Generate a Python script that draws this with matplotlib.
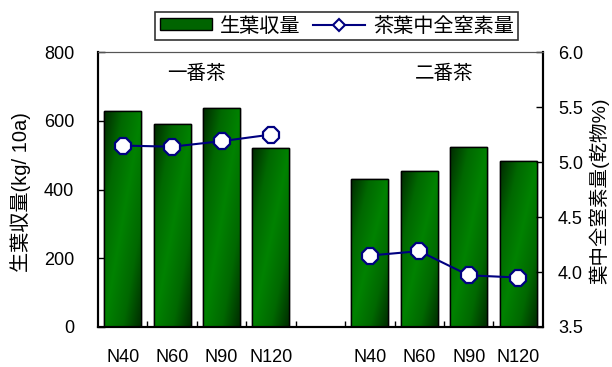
import numpy as np
import matplotlib
matplotlib.use("Agg")
import matplotlib.pyplot as plt
from matplotlib.colors import LinearSegmentedColormap
from matplotlib.lines import Line2D
from matplotlib.patches import Patch
from matplotlib.ticker import MultipleLocator, FixedLocator, FormatStrFormatter

plt.rcParams['font.family'] = ['Liberation Sans', 'Noto Sans CJK JP']
plt.rcParams['font.size'] = 13

labels = ["N40", "N60", "N90", "N120", "", "N40", "N60", "N90", "N120"]
yield_1 = [628, 590, 636, 520]      # 一番茶
yield_2 = [432, 455, 525, 482]      # 二番茶
nitrogen_1 = [5.15, 5.14, 5.19, 5.25]
nitrogen_2 = [4.15, 4.19, 3.97, 3.95]

x1 = np.arange(4)
x2 = np.arange(5, 9)

fig = plt.figure(figsize=(6.12, 3.67), dpi=100)
ax = fig.add_axes([0.160, 0.109, 0.727, 0.749])
ax2 = ax.twinx()

green_cmap = LinearSegmentedColormap.from_list("bar", ["#002a00", "#006800", "#008200"])

# bars with a diagonal shading, dark at the top-left and bottom-right corners
u = np.linspace(0, 1, 60)
t = np.linspace(0, 1, 120)
U, T = np.meshgrid(u, t)
shade = 1 - np.abs(U - T)

width = 0.75
bars = ax.bar(np.concatenate([x1, x2]), yield_1 + yield_2, width=width,
              color="#008000", edgecolor="black", linewidth=1.0, zorder=2)
for b in bars:
    x0 = b.get_x()
    h = b.get_height()
    im = ax.imshow(shade, cmap=green_cmap, vmin=0, vmax=1, origin="lower",
                   extent=[x0, x0 + width, 0, h], aspect="auto", zorder=2.5)
    im.set_clip_path(b)
    ax.bar(x0 + width / 2, h, width=width, fill=False, edgecolor="black",
           linewidth=1.0, zorder=3)

ax.set_xlim(-0.5, 8.5)
ax.set_ylim(0, 800)
ax.yaxis.set_major_locator(MultipleLocator(200))
ax.set_xticks(np.arange(9))
ax.set_xticklabels(labels)
ax.xaxis.set_minor_locator(FixedLocator(np.arange(0.5, 8, 1)))
ax.tick_params(axis="x", which="major", length=0, pad=16, labelsize=13)
ax.tick_params(axis="x", which="minor", direction="in", length=4, width=1)
ax.tick_params(axis="y", direction="in", length=5, width=1, pad=17, labelsize=13)
ax.set_ylabel("生葉収量(kg/ 10a)", fontsize=14.5)
ax.yaxis.set_label_coords(-0.15, 0.49)

line_kw = dict(color="#000080", linewidth=1.5, marker="8", markersize=13,
               markerfacecolor="white", markeredgecolor="#000080",
               markeredgewidth=1.6, zorder=5)
ax2.plot(x1, nitrogen_1, **line_kw)
ax2.plot(x2, nitrogen_2, **line_kw)
ax2.set_ylim(3.5, 6.0)
ax2.yaxis.set_major_locator(MultipleLocator(0.5))
ax2.yaxis.set_major_formatter(FormatStrFormatter("%.1f"))
ax2.tick_params(axis="y", direction="in", length=5, width=1, pad=11, labelsize=13)
ax2.set_ylabel("葉中全窒素量(乾物%)", fontsize=14, rotation=90)
ax2.yaxis.set_label_coords(1.104, 0.495)

for a in (ax, ax2):
    a.spines["left"].set_linewidth(1.5)
    a.spines["right"].set_linewidth(1.5)
    a.spines["bottom"].set_linewidth(1.5)
    a.spines["top"].set_linewidth(0.8)
    a.spines["top"].set_color("#555555")

ax.text(1.5, 738, "一番茶", ha="center", va="center", fontsize=14)
ax.text(6.5, 738, "二番茶", ha="center", va="center", fontsize=14)

handles = [Patch(facecolor="#006400", edgecolor="black", linewidth=1.0),
           Line2D([], [], color="#000080", linewidth=1.5, marker="D", markersize=6,
                  markerfacecolor="white", markeredgecolor="#000080", markeredgewidth=1.5)]
leg = ax.legend(handles, ["生葉収量", "茶葉中全窒素量"], ncol=2, loc="center",
                bbox_to_anchor=(0.537, 1.095), frameon=True, fancybox=False,
                edgecolor="black", fontsize=14.5, handlelength=2.6, handleheight=0.55,
                borderpad=0.22, columnspacing=0.6, handletextpad=0.4,
                borderaxespad=0)
leg.get_frame().set_linewidth(1.2)

fig.savefig("out.png", dpi=100)
